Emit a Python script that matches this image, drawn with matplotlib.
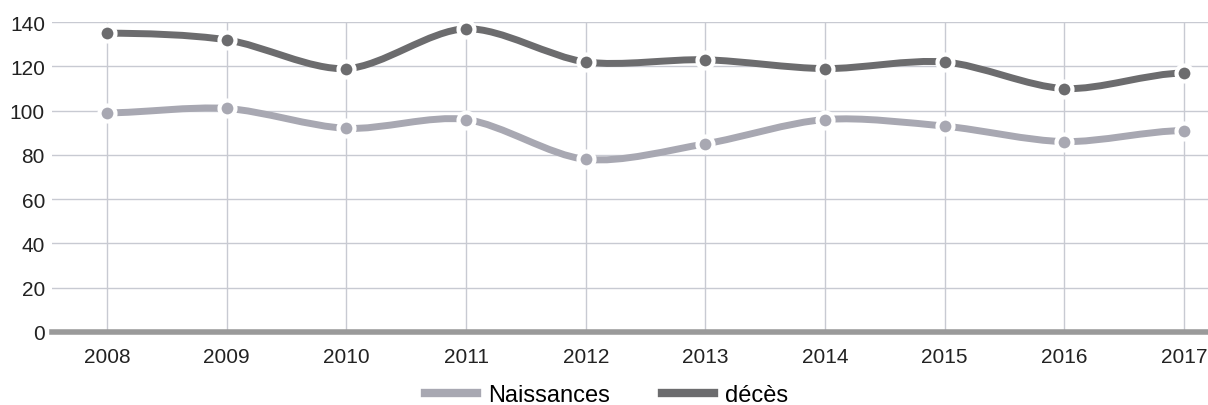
import matplotlib
matplotlib.use('Agg')
import numpy as np
import matplotlib.pyplot as plt
from matplotlib.path import Path
from matplotlib.patches import PathPatch
from matplotlib.lines import Line2D

plt.rcParams['font.family'] = ['Liberation Sans', 'DejaVu Sans']

years = [2008, 2009, 2010, 2011, 2012, 2013, 2014, 2015, 2016, 2017]
naissances = [99, 101, 92, 96, 78, 85, 96, 93, 86, 91]
deces = [135, 132, 119, 137, 122, 123, 119, 122, 110, 117]

col_naiss = '#a8a8b2'
col_deces = '#6c6c6e'


def spline_path(xs, ys, t=0.3):
    # smooth bezier through the points (like a highcharts spline)
    xs = np.asarray(xs, float)
    ys = np.asarray(ys, float)
    verts = [(xs[0], ys[0])]
    codes = [Path.MOVETO]
    n = len(xs)
    for i in range(n - 1):
        p0 = i - 1 if i > 0 else i
        p3 = i + 2 if i + 2 < n else i + 1
        c1 = (xs[i] + (xs[i + 1] - xs[p0]) * t / 2 if p0 != i else xs[i] + (xs[i + 1] - xs[i]) * t,
              ys[i] + (ys[i + 1] - ys[p0]) * t / 2 if p0 != i else ys[i])
        c2 = (xs[i + 1] - (xs[p3] - xs[i]) * t / 2 if p3 != i + 1 else xs[i + 1] - (xs[i + 1] - xs[i]) * t,
              ys[i + 1] - (ys[p3] - ys[i]) * t / 2 if p3 != i + 1 else ys[i + 1])
        verts += [c1, c2, (xs[i + 1], ys[i + 1])]
        codes += [Path.CURVE4] * 3
    return Path(verts, codes)


fig = plt.figure(figsize=(12.08, 4.06), dpi=100)
ax = fig.add_axes([0.043, 0.18, 0.957, 0.763])

for vals, col in [(naissances, col_naiss), (deces, col_deces)]:
    ax.add_patch(PathPatch(spline_path(years, vals), facecolor='none',
                           edgecolor=col, lw=5, capstyle='round', zorder=3))
    ax.plot(years, vals, linestyle='none', marker='o', ms=11.5, mfc=col,
            mec='white', mew=3, zorder=4)

ax.set_xlim(2007.54, 2017.2)
ax.set_ylim(0, 140)
ax.set_yticks(range(0, 141, 20))
ax.set_xticks(years)
ax.grid(True, color='#c8cad2', lw=1)
ax.set_axisbelow(True)
ax.axhline(0, color='#9a9a9a', lw=4, zorder=2, clip_on=False)
for s in ax.spines.values():
    s.set_visible(False)
ax.tick_params(length=0, labelsize=15, colors='#222222')
ax.tick_params(axis='x', pad=11)
ax.tick_params(axis='y', pad=5)

handles = [Line2D([], [], color=col_naiss, lw=6), Line2D([], [], color=col_deces, lw=6)]
fig.legend(handles, ['Naissances', 'décès'], loc='lower center', ncol=2,
           frameon=False, fontsize=17, bbox_to_anchor=(0.502, -0.055),
           handlelength=2.2, columnspacing=2.2, handletextpad=0.47)

fig.savefig('out.png', dpi=100)
